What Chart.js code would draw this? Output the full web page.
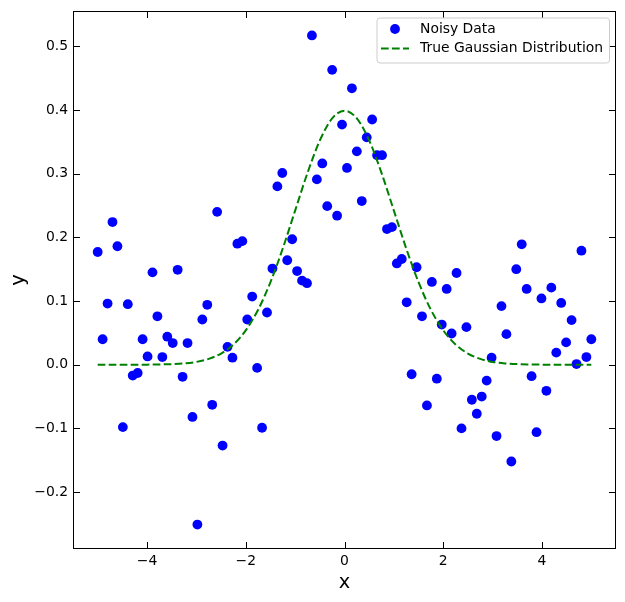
<!DOCTYPE html>
<html>
<head>
<meta charset="utf-8">
<script src="https://cdn.jsdelivr.net/npm/chart.js@4.4.1/dist/chart.umd.min.js"></script>
<style>
  html, body { margin: 0; padding: 0; background: #fff; }
  canvas { display: block; }
</style>
</head>
<body>
<canvas id="gaussChart" width="625" height="602"></canvas>
<script>
// x positions of the noisy samples (100 evenly spaced points from -5 to 5)
const sampleX = [
  -5.00, -4.90, -4.80, -4.70, -4.60, -4.49, -4.39, -4.29, -4.19, -4.09,
  -3.99, -3.89, -3.79, -3.69, -3.59, -3.48, -3.38, -3.28, -3.18, -3.08,
  -2.98, -2.88, -2.78, -2.68, -2.58, -2.47, -2.37, -2.27, -2.17, -2.07,
  -1.97, -1.87, -1.77, -1.67, -1.57, -1.46, -1.36, -1.26, -1.16, -1.06,
  -0.96, -0.86, -0.76, -0.66, -0.56, -0.45, -0.35, -0.25, -0.15, -0.05,
  0.05, 0.15, 0.25, 0.35, 0.45, 0.56, 0.66, 0.76, 0.86, 0.96,
  1.06, 1.16, 1.26, 1.36, 1.46, 1.57, 1.67, 1.77, 1.87, 1.97,
  2.07, 2.17, 2.27, 2.37, 2.47, 2.58, 2.68, 2.78, 2.88, 2.98,
  3.08, 3.18, 3.28, 3.38, 3.48, 3.59, 3.69, 3.79, 3.89, 3.99,
  4.09, 4.19, 4.29, 4.39, 4.49, 4.60, 4.70, 4.80, 4.90, 5.00
];

// noisy y values
const noisyY = [
  0.177, 0.040, 0.096, 0.224, 0.186, -0.098, 0.095, -0.017, -0.013, 0.040,
  0.013, 0.145, 0.076, 0.012, 0.044, 0.034, 0.149, -0.019, 0.034, -0.082,
  -0.251, 0.071, 0.094, -0.063, 0.240, -0.127, 0.028, 0.011, 0.190, 0.194,
  0.071, 0.107, -0.005, -0.099, 0.082, 0.151, 0.280, 0.301, 0.164, 0.197,
  0.147, 0.132, 0.128, 0.517, 0.291, 0.316, 0.249, 0.463, 0.234, 0.377,
  0.309, 0.434, 0.335, 0.257, 0.357, 0.385, 0.329, 0.329, 0.213, 0.216,
  0.159, 0.166, 0.098, -0.015, 0.153, 0.076, -0.064, 0.130, -0.022, 0.063,
  0.119, 0.049, 0.144, -0.100, 0.059, -0.055, -0.077, -0.050, -0.025, 0.011,
  -0.112, 0.092, 0.048, -0.152, 0.150, 0.189, 0.119, -0.018, -0.106, 0.104,
  -0.041, 0.121, 0.019, 0.097, 0.035, 0.070, 0.001, 0.179, 0.012, 0.040
];

// dashed reference curve
const curveX = [
  -5.00, -4.75, -4.50, -4.25, -4.00, -3.75, -3.50, -3.25, -3.00, -2.75,
  -2.50, -2.25, -2.00, -1.75, -1.50, -1.25, -1.00, -0.75, -0.50, -0.25,
  0.00, 0.25, 0.50, 0.75, 1.00, 1.25, 1.50, 1.75, 2.00, 2.25,
  2.50, 2.75, 3.00, 3.25, 3.50, 3.75, 4.00, 4.25, 4.50, 4.75, 5.00
];
const curveY = [
  0.0000, 0.0000, 0.0000, 0.0000, 0.0001, 0.0004, 0.0009, 0.0020, 0.0044, 0.0091,
  0.0175, 0.0317, 0.0540, 0.0863, 0.1295, 0.1826, 0.2420, 0.3011, 0.3521, 0.3867,
  0.3989, 0.3867, 0.3521, 0.3011, 0.2420, 0.1826, 0.1295, 0.0863, 0.0540, 0.0317,
  0.0175, 0.0091, 0.0044, 0.0020, 0.0009, 0.0004, 0.0001, 0.0000, 0.0000, 0.0000, 0.0000
];

const seriesNames = ['Noisy Data', 'True Gaussian Distribution'];

const FONT = 'DejaVu Sans';
const minus = s => String(s).replace('-', '\u2212');

// frame, inward ticks on all four sides, and the boxed legend
const framePlugin = {
    id: 'framePlugin',
    afterDraw(chart) {
        const { ctx, chartArea: a, scales } = chart;
        const tick = 7;
        ctx.save();
        ctx.strokeStyle = '#000';
        ctx.lineWidth = 1;
        ctx.strokeRect(a.left + 0.5, a.top + 0.5, a.right - a.left - 1, a.bottom - a.top - 1);
        ctx.beginPath();
        scales.x.ticks.forEach(t => {
            const px = Math.round(scales.x.getPixelForValue(t.value)) + 0.5;
            ctx.moveTo(px, a.bottom); ctx.lineTo(px, a.bottom - tick);
            ctx.moveTo(px, a.top); ctx.lineTo(px, a.top + tick);
        });
        scales.y.ticks.forEach(t => {
            const py = Math.round(scales.y.getPixelForValue(t.value)) + 0.5;
            ctx.moveTo(a.left, py); ctx.lineTo(a.left + tick, py);
            ctx.moveTo(a.right, py); ctx.lineTo(a.right - tick, py);
        });
        ctx.stroke();

        // legend box
        const boxR = a.right - 7, boxT = a.top + 6.5;
        const boxL = boxR - 232.5, boxB = boxT + 45;
        ctx.beginPath();
        ctx.roundRect(boxL + 0.5, boxT + 0.5, boxR - boxL, boxB - boxT, 3);
        ctx.fillStyle = 'rgba(255,255,255,0.8)';
        ctx.fill();
        ctx.strokeStyle = '#cccccc';
        ctx.stroke();

        const row1 = boxT + 11.5, row2 = boxT + 31;
        ctx.beginPath();
        ctx.arc(boxL + 18.5, row1, 4.9, 0, Math.PI * 2);
        ctx.fillStyle = '#0000ff';
        ctx.fill();

        ctx.beginPath();
        ctx.setLineDash([7.7, 3.3]);
        ctx.strokeStyle = '#008000';
        ctx.lineWidth = 2;
        ctx.moveTo(boxL + 4.5, row2);
        ctx.lineTo(boxL + 32.5, row2);
        ctx.stroke();
        ctx.setLineDash([]);

        ctx.fillStyle = '#000';
        ctx.font = '13.9px "' + FONT + '"';
        ctx.textBaseline = 'middle';
        ctx.textAlign = 'left';
        ctx.fillText(seriesNames[0], boxL + 43.5, row1);
        ctx.fillText(seriesNames[1], boxL + 43.5, row2);
        ctx.restore();
    }
};

const ctx = document.getElementById('gaussChart').getContext('2d');
const gaussChart = new Chart(ctx, {
    type: 'scatter',
    data: {
        datasets: [
            {
                label: seriesNames[0],
                data: sampleX.map((x, i) => ({ x: x, y: noisyY[i] })),
                backgroundColor: '#0000ff',
                borderWidth: 0,
                pointRadius: 4.9,
                pointHoverRadius: 4.9,
                order: 2
            },
            {
                label: seriesNames[1],
                data: curveX.map((x, i) => ({ x: x, y: curveY[i] })),
                showLine: true,
                borderColor: '#008000',
                borderWidth: 2,
                borderDash: [7.7, 3.3],
                cubicInterpolationMode: 'monotone',
                pointRadius: 0,
                fill: false,
                order: 1
            }
        ]
    },
    options: {
        responsive: false,
        animation: false,
        layout: { padding: { top: 11, right: 9, left: 0, bottom: 0 } },
        scales: {
            x: {
                type: 'linear',
                min: -5.5,
                max: 5.5,
                grid: { display: false, drawTicks: false },
                border: { display: false },
                ticks: {
                    stepSize: 2,
                    includeBounds: false,
                    padding: 4,
                    color: '#000',
                    font: { family: FONT, size: 13.9 },
                    maxRotation: 0,
                    callback: v => minus(v)
                },
                title: {
                    display: true,
                    text: 'x',
                    color: '#000',
                    font: { family: FONT, size: 19.4 },
                    padding: { top: 0, bottom: 7 }
                },
                afterFit: s => {
                    s.height = 53;
                    s.paddingLeft = 0;
                    s.paddingRight = 0;
                }
            },
            y: {
                type: 'linear',
                min: -0.2894,
                max: 0.5554,
                grid: { display: false, drawTicks: false },
                border: { display: false },
                ticks: {
                    stepSize: 0.1,
                    includeBounds: false,
                    padding: 5,
                    color: '#000',
                    font: { family: FONT, size: 13.9 },
                    callback: v => minus(v.toFixed(1))
                },
                title: {
                    display: true,
                    text: 'y',
                    color: '#000',
                    font: { family: FONT, size: 19.4 },
                    padding: { top: 7, bottom: 0 }
                },
                afterFit: s => {
                    s.width = 73;
                    s.paddingTop = 0;
                    s.paddingBottom = 0;
                }
            }
        },
        plugins: {
            legend: { display: false },
            tooltip: { enabled: false }
        }
    },
    plugins: [framePlugin]
});
</script>
</body>
</html>
